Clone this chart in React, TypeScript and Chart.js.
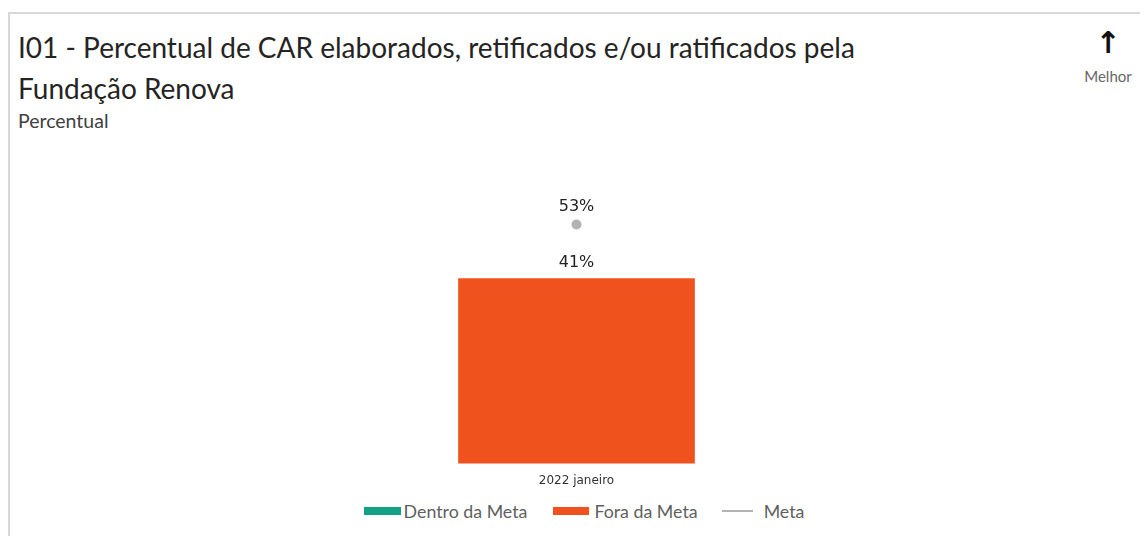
import React, { useEffect, useRef } from "react";
import { Chart, registerables } from "chart.js";

Chart.register(...registerables);

const categories = ["2022 janeiro"];
const dentroDaMeta: (number | null)[] = [null];
const foraDaMeta: (number | null)[] = [41];
const meta: number[] = [53];
const yMin = 0;
const yMax = 68.4;

const TEAL = "#14a085";
const ORANGE = "#f0521d";
const GRAY = "#b3b3b3";

const labelPlugin = {
  id: "valueLabels",
  afterDatasetsDraw(chart: any) {
    const ctx = chart.ctx;
    ctx.save();
    ctx.font = "16px 'DejaVu Sans'";
    ctx.fillStyle = "#222";
    ctx.textAlign = "center";
    ctx.textBaseline = "middle";
    chart.data.datasets.forEach((ds: any, i: number) => {
      const metaInfo = chart.getDatasetMeta(i);
      if (metaInfo.hidden) return;
      metaInfo.data.forEach((el: any, j: number) => {
        const v = ds.data[j];
        if (v === null || v === undefined) return;
        const off = ds.type === "line" ? 18 : 16;
        ctx.fillText(v + "%", el.x, el.y - off);
      });
    });
    ctx.restore();
  },
};

function App() {
  const ref = useRef<HTMLCanvasElement>(null);
  useEffect(() => {
    if (!ref.current) return;
    const chart = new Chart(ref.current, {
      type: "bar",
      data: {
        labels: categories,
        datasets: [
          {
            type: "line" as const,
            label: "Meta",
            data: meta,
            borderColor: GRAY,
            backgroundColor: GRAY,
            pointRadius: 5,
            pointBorderWidth: 0,
            showLine: false,
            order: 0,
          },
          {
            label: "Dentro da Meta",
            data: dentroDaMeta,
            backgroundColor: TEAL,
            barThickness: 236,
            grouped: false,
            order: 1,
          },
          {
            label: "Fora da Meta",
            data: foraDaMeta,
            backgroundColor: ORANGE,
            barThickness: 236,
            grouped: false,
            order: 1,
          },
        ] as any,
      },
      options: {
        animation: false,
        responsive: true,
        maintainAspectRatio: false,
        layout: { padding: { top: 0, bottom: 0, left: 0, right: 0 } },
        plugins: {
          legend: { display: false },
          tooltip: { enabled: false },
        },
        scales: {
          x: {
            grid: { display: false, drawTicks: false },
            border: { display: false },
            ticks: {
              padding: 10,
              color: "#333",
              font: { family: "'DejaVu Sans'", size: 12 },
            },
          },
          y: {
            display: false,
            min: yMin,
            max: yMax,
          },
        },
      },
      plugins: [labelPlugin],
    });
    return () => chart.destroy();
  }, []);

  const legendText: React.CSSProperties = {
    fontFamily: "Lato, 'Open Sans', sans-serif",
    fontSize: 17.8,
    color: "#5f5f5f",
  };

  return (
    <div
      style={{
        position: "relative",
        boxSizing: "border-box",
        width: 1140,
        height: 524,
        marginTop: 4,
        border: "2px solid #d8d8d8",
        borderBottom: "none",
        background: "#fff",
        overflow: "hidden",
      }}
    >
      <div
        style={{
          position: "absolute",
          left: 8,
          top: 13,
          fontFamily: "Lato, sans-serif",
          fontSize: 28,
          lineHeight: "41px",
          color: "#252423",
          width: 1000,
        }}
      >
        I01 - Percentual de CAR elaborados, retificados e/ou ratificados pela
        <br />
        Fundação Renova
      </div>
      <div
        style={{
          position: "absolute",
          left: 8,
          top: 95,
          fontFamily: "Lato, sans-serif",
          fontSize: 19.5,
          color: "#404040",
        }}
      >
        Percentual
      </div>
      <div
        style={{
          position: "absolute",
          left: 1068,
          top: 12,
          width: 60,
          textAlign: "center",
          fontFamily: "'DejaVu Sans', sans-serif",
        }}
      >
        <div style={{ fontSize: 30, lineHeight: "34px", color: "#111", fontWeight: "bold" }}>↑</div>
        <div style={{ fontSize: 15, fontFamily: "Lato, sans-serif", color: "#666", marginTop: 7 }}>Melhor</div>
      </div>
      <div
        style={{
          position: "absolute",
          left: 0,
          top: 136,
          width: 1133,
          height: 348,
        }}
      >
        <canvas ref={ref} />
      </div>
      <div
        style={{
          position: "absolute",
          left: 0,
          top: 485,
          width: 1136,
          height: 24,
          display: "flex",
          alignItems: "center",
          justifyContent: "center",
          paddingLeft: 12,
          boxSizing: "border-box",
        }}
      >
        <span style={{ display: "inline-block", width: 37, height: 8, background: TEAL, marginRight: 3 }} />
        <span style={legendText}>Dentro da Meta</span>
        <span style={{ display: "inline-block", width: 36, height: 8, background: ORANGE, marginLeft: 26, marginRight: 5 }} />
        <span style={legendText}>Fora da Meta</span>
        <span style={{ display: "inline-block", width: 31, height: 2, background: GRAY, marginLeft: 24, marginRight: 11 }} />
        <span style={legendText}>Meta</span>
      </div>
    </div>
  );
}

export default App;
